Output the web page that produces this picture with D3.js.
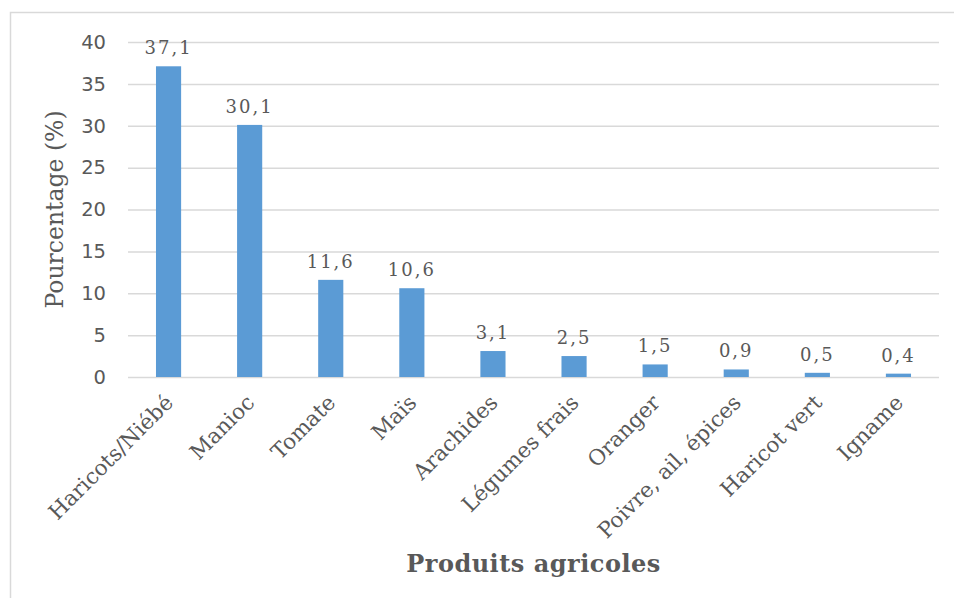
<!DOCTYPE html>
<html>
<head>
<meta charset="utf-8">
<script src="https://cdn.jsdelivr.net/npm/d3@7"></script>
<style>
  html, body { margin: 0; padding: 0; background: #fff; }
  svg { display: block; }
</style>
</head>
<body>
<svg id="chart" width="954" height="598"></svg>
<script>
// Crops and their share (%)
const categories = ["Haricots/Niébé", "Manioc", "Tomate", "Maïs", "Arachides",
  "Légumes frais", "Oranger", "Poivre, ail, épices", "Haricot vert", "Igname"];
const values = [37.1, 30.1, 11.6, 10.6, 3.1, 2.5, 1.5, 0.9, 0.5, 0.4];
const yTicks = [0, 5, 10, 15, 20, 25, 30, 35, 40];
const yTitle = "Pourcentage (%)";
const xTitle = "Produits agricoles";

const svg = d3.select("#chart");
const W = 954, H = 598;
const margin = { left: 128, right: 15, top: 42, bottom: 221 };
const textColor = "#595959";
const gridColor = "#d9d9d9";
const barColor = "#5b9bd5";
const serif = "'DejaVu Serif', 'Liberation Serif', serif";
const sans = "'DejaVu Sans', 'Open Sans', sans-serif";

// outer frame
svg.append("rect")
  .attr("x", 10.5).attr("y", 12.5)
  .attr("width", 1000).attr("height", 700)
  .attr("fill", "none").attr("stroke", gridColor).attr("stroke-width", 1.5);

const x = d3.scaleBand()
  .domain(categories)
  .range([margin.left, W - margin.right])
  .paddingInner(0.69).paddingOuter(0.345);

const y = d3.scaleLinear()
  .domain([0, 40])
  .range([H - margin.bottom, margin.top]);

// horizontal gridlines and value axis
const yAxis = svg.append("g")
  .attr("transform", `translate(${margin.left},0)`)
  .call(d3.axisLeft(y).tickValues(yTicks).tickSize(-(W - margin.left - margin.right)).tickPadding(22));
yAxis.select(".domain").remove();
yAxis.selectAll(".tick line").attr("stroke", gridColor).attr("stroke-width", 1.5);
yAxis.selectAll(".tick text")
  .attr("fill", textColor).attr("font-family", sans).attr("font-size", 19.5);

// bars
svg.append("g").selectAll("rect")
  .data(values)
  .join("rect")
  .attr("x", (d, i) => x(categories[i]))
  .attr("width", x.bandwidth())
  .attr("y", d => y(d))
  .attr("height", d => y(0) - y(d))
  .attr("fill", barColor);

// value labels
svg.append("g").selectAll("text")
  .data(values)
  .join("text")
  .attr("x", (d, i) => x(categories[i]) + x.bandwidth() / 2)
  .attr("y", d => y(d) - 12)
  .attr("text-anchor", "middle")
  .attr("fill", textColor)
  .attr("font-family", serif)
  .attr("font-size", 18)
  .attr("letter-spacing", 2)
  .text(d => String(d).replace(".", ","));

// category labels
const xAxis = svg.append("g")
  .attr("transform", `translate(0,${y(0)})`)
  .call(d3.axisBottom(x).tickSize(0).tickPadding(0));
xAxis.select(".domain").remove();
xAxis.selectAll(".tick text")
  .attr("fill", textColor)
  .attr("font-family", serif)
  .attr("font-size", 21.5)
  .attr("text-anchor", "end")
  .attr("dy", 0)
  .attr("transform", "translate(6,27) rotate(-45)");

// axis titles
svg.append("text")
  .attr("transform", `translate(63,${(y(0) + y(40)) / 2}) rotate(-90)`)
  .attr("text-anchor", "middle")
  .attr("fill", textColor)
  .attr("font-family", serif)
  .attr("font-size", 23.5)
  .text(yTitle);

svg.append("text")
  .attr("x", (margin.left + W - margin.right) / 2)
  .attr("y", 572)
  .attr("text-anchor", "middle")
  .attr("fill", textColor)
  .attr("font-family", serif)
  .attr("font-weight", "bold")
  .attr("font-size", 24)
  .attr("letter-spacing", 0.5)
  .text(xTitle);
</script>
</body>
</html>
